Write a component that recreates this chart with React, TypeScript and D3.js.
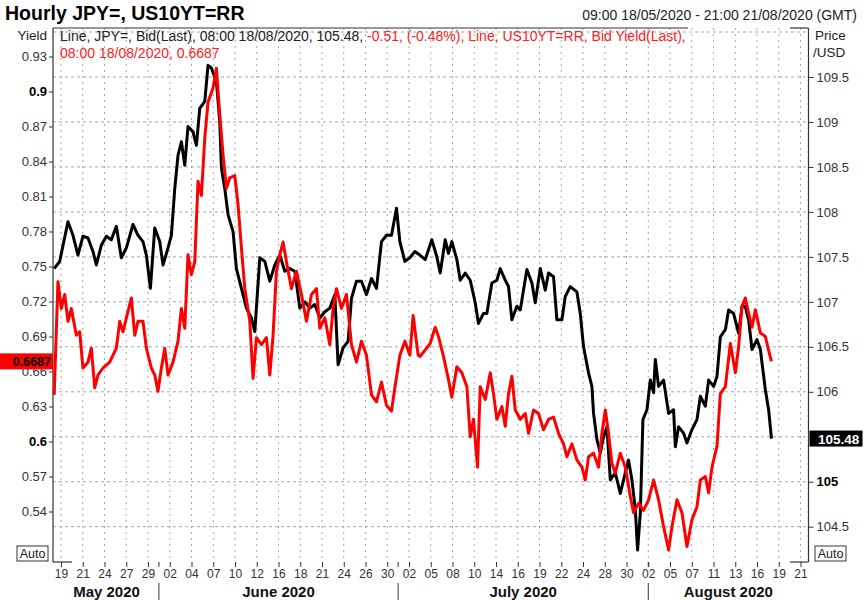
import * as d3 from "d3";
import { useEffect, useRef } from "react";

// trading-day position (weekdays since Mon 18/05/2020) and value
const jpyPoints: [number, number][] = [
  [0.375, 107.37], [0.88, 107.45], [1.64, 107.89], [2.1, 107.74], [2.56, 107.52], [3.02, 107.73],
  [3.48, 107.71], [3.94, 107.56], [4.25, 107.41], [4.71, 107.63], [5.17, 107.73], [5.63, 107.69],
  [6.09, 107.84], [6.55, 107.49], [7.01, 107.6], [7.62, 107.86], [8.08, 107.74], [8.54, 107.67],
  [8.85, 107.52], [9.22, 107.15], [9.62, 107.82], [10.08, 107.67], [10.38, 107.41], [10.84, 107.6],
  [11.15, 107.74], [11.46, 108.26], [11.76, 108.63], [12.07, 108.78], [12.38, 108.52], [12.68, 108.95],
  [13.14, 108.89], [13.45, 108.74], [13.76, 109.15], [14.22, 109.23], [14.52, 109.63], [14.83, 109.6],
  [15.29, 109.45], [15.6, 109.0], [15.75, 108.49], [16.06, 108.26], [16.36, 107.97], [16.82, 107.78],
  [17.13, 107.37], [17.59, 107.15], [18.05, 106.93], [18.51, 106.82], [18.82, 106.67], [19.28, 107.49],
  [19.74, 107.45], [20.2, 107.23], [20.66, 107.41], [21.12, 107.52], [21.58, 107.34], [22.04, 107.37],
  [22.5, 107.34], [22.96, 106.93], [23.42, 107.0], [23.88, 106.93], [24.34, 106.97], [24.8, 106.82],
  [25.26, 106.89], [25.72, 106.93], [26.18, 107.08], [26.48, 106.3], [26.94, 106.49], [27.4, 106.56],
  [27.71, 107.04], [28.17, 107.23], [28.63, 107.23], [29.09, 107.08], [29.55, 107.26], [30.01, 107.15],
  [30.47, 107.67], [30.93, 107.74], [31.39, 107.74], [31.85, 108.04], [32.16, 107.67], [32.62, 107.45],
  [33.08, 107.49], [33.54, 107.56], [34.0, 107.52], [34.49, 107.47], [35.1, 107.69], [35.56, 107.5],
  [35.87, 107.32], [36.33, 107.69], [36.63, 107.54], [36.94, 107.67], [37.4, 107.47], [37.71, 107.24],
  [38.17, 107.32], [38.63, 107.24], [39.09, 106.99], [39.39, 106.76], [39.85, 106.87], [40.16, 106.87],
  [40.62, 107.21], [41.08, 107.24], [41.39, 107.37], [41.85, 107.24], [42.15, 107.17], [42.46, 106.8],
  [42.92, 106.95], [43.23, 106.91], [43.84, 107.36], [44.3, 107.21], [44.61, 106.99], [45.07, 107.37],
  [45.53, 107.13], [45.83, 107.32], [46.29, 107.28], [46.6, 106.8], [47.06, 106.8], [47.37, 107.06],
  [47.83, 107.17], [48.44, 107.11], [48.75, 106.87], [49.05, 106.5], [49.51, 106.21], [49.82, 106.06],
  [49.97, 105.76], [50.28, 105.47], [50.59, 105.32], [50.89, 105.5], [51.2, 105.61], [51.51, 105.02],
  [51.97, 105.1], [52.43, 104.87], [52.89, 105.1], [53.19, 105.24], [53.5, 105.02], [53.81, 104.69],
  [54.02, 104.24], [54.27, 104.65], [54.51, 105.69], [54.88, 105.8], [55.19, 106.13], [55.49, 105.99],
  [55.65, 106.36], [55.95, 106.06], [56.41, 106.13], [56.87, 105.76], [57.33, 105.8], [57.49, 105.39],
  [57.79, 105.61], [58.25, 105.54], [58.56, 105.43], [59.02, 105.58], [59.48, 105.69], [59.79, 105.95],
  [60.25, 105.84], [60.55, 106.13], [61.01, 106.06], [61.32, 106.17], [61.63, 106.61], [62.09, 106.69],
  [62.39, 106.91], [62.85, 106.87], [63.31, 106.65], [63.62, 106.95], [63.92, 106.95], [64.23, 106.8],
  [64.54, 106.47], [65.0, 106.58], [65.31, 106.47], [65.77, 106.02], [66.07, 105.8], [66.33, 105.48],
];

const yieldPoints: [number, number][] = [
  [0.375, 0.64], [0.72, 0.737], [1.03, 0.714], [1.34, 0.726], [1.64, 0.703], [1.95, 0.714],
  [2.41, 0.691], [2.72, 0.694], [3.02, 0.663], [3.48, 0.668], [3.79, 0.68], [4.1, 0.646],
  [4.4, 0.657], [4.86, 0.663], [5.48, 0.668], [6.09, 0.68], [6.4, 0.703], [6.7, 0.694],
  [7.01, 0.706], [7.47, 0.723], [7.78, 0.691], [8.08, 0.703], [8.54, 0.703], [8.85, 0.68],
  [9.31, 0.663], [9.62, 0.657], [9.92, 0.643], [10.23, 0.663], [10.54, 0.68], [10.84, 0.657],
  [11.3, 0.668], [11.76, 0.686], [12.07, 0.714], [12.38, 0.697], [12.68, 0.76], [12.99, 0.743],
  [13.3, 0.754], [13.6, 0.823], [13.91, 0.811], [14.22, 0.86], [14.52, 0.891], [14.98, 0.903],
  [15.29, 0.92], [15.6, 0.88], [15.9, 0.846], [16.21, 0.817], [16.52, 0.826], [16.98, 0.828],
  [17.28, 0.803], [17.59, 0.766], [17.9, 0.731], [18.36, 0.703], [18.66, 0.654], [18.97, 0.689],
  [19.43, 0.683], [19.89, 0.689], [20.2, 0.657], [20.5, 0.691], [20.81, 0.746], [21.12, 0.76],
  [21.42, 0.771], [21.73, 0.754], [22.19, 0.731], [22.65, 0.746], [23.11, 0.726], [23.57, 0.703],
  [24.03, 0.726], [24.49, 0.731], [24.8, 0.697], [25.26, 0.706], [25.72, 0.683], [26.02, 0.714],
  [26.33, 0.731], [26.79, 0.714], [27.25, 0.726], [27.71, 0.683], [28.17, 0.668], [28.63, 0.686],
  [29.09, 0.674], [29.55, 0.64], [30.01, 0.634], [30.47, 0.651], [30.93, 0.631], [31.39, 0.626],
  [31.7, 0.646], [32.16, 0.674], [32.62, 0.686], [33.08, 0.674], [33.38, 0.708], [33.84, 0.674],
  [34.03, 0.673], [34.95, 0.684], [35.41, 0.698], [35.71, 0.69], [36.17, 0.673], [36.63, 0.653],
  [36.94, 0.638], [37.4, 0.664], [37.86, 0.659], [38.32, 0.647], [38.63, 0.604], [38.93, 0.619],
  [39.3, 0.578], [39.55, 0.647], [40.01, 0.636], [40.47, 0.659], [40.77, 0.641], [41.08, 0.619],
  [41.54, 0.63], [41.85, 0.613], [42.15, 0.641], [42.46, 0.656], [42.77, 0.627], [43.23, 0.619],
  [43.69, 0.624], [43.99, 0.607], [44.45, 0.627], [44.91, 0.624], [45.37, 0.61], [45.83, 0.619],
  [46.29, 0.621], [46.75, 0.607], [47.21, 0.598], [47.52, 0.587], [47.98, 0.598], [48.44, 0.584],
  [48.9, 0.578], [49.21, 0.567], [49.51, 0.587], [49.97, 0.59], [50.43, 0.578], [50.74, 0.607],
  [51.05, 0.627], [51.35, 0.607], [51.66, 0.581], [51.97, 0.573], [52.43, 0.59], [52.89, 0.578],
  [53.35, 0.553], [53.65, 0.539], [54.11, 0.547], [54.57, 0.541], [55.03, 0.55], [55.49, 0.567],
  [55.95, 0.55], [56.41, 0.527], [56.87, 0.507], [57.18, 0.527], [57.64, 0.55], [58.1, 0.539],
  [58.56, 0.51], [59.02, 0.533], [59.48, 0.544], [59.79, 0.567], [60.25, 0.57], [60.55, 0.556],
  [60.86, 0.578], [61.32, 0.596], [61.63, 0.641], [62.09, 0.647], [62.55, 0.684], [63.01, 0.659],
  [63.31, 0.681], [63.62, 0.716], [63.92, 0.723], [64.23, 0.71], [64.54, 0.698], [64.85, 0.713],
  [65.31, 0.693], [65.77, 0.69], [66.07, 0.678], [66.33, 0.6687],
];

const yieldTicks = [0.54, 0.57, 0.6, 0.63, 0.66, 0.69, 0.72, 0.75, 0.78, 0.81, 0.84, 0.87, 0.9, 0.93];
const priceTicks = [104.5, 105, 106, 106.5, 107, 107.5, 108, 108.5, 109, 109.5];
const priceGrid = [104.5, 105, 105.5, 106, 106.5, 107, 107.5, 108, 108.5, 109, 109.5, 110];
const dateTicks = [
  "2020-05-19", "2020-05-21", "2020-05-24", "2020-05-27", "2020-05-29",
  "2020-06-02", "2020-06-04", "2020-06-07", "2020-06-10", "2020-06-12", "2020-06-16",
  "2020-06-18", "2020-06-21", "2020-06-24", "2020-06-26", "2020-06-30",
  "2020-07-02", "2020-07-05", "2020-07-08", "2020-07-10", "2020-07-14", "2020-07-16",
  "2020-07-19", "2020-07-22", "2020-07-24", "2020-07-28", "2020-07-30",
  "2020-08-02", "2020-08-05", "2020-08-07", "2020-08-11", "2020-08-13", "2020-08-16",
  "2020-08-19", "2020-08-21",
];
const monthNames = ["May 2020", "June 2020", "July 2020", "August 2020"];
const monthStarts = ["2020-06-01", "2020-07-01", "2020-08-01"];
const rangeStart = 0.375; // 09:00 18/05/2020
const rangeEnd = 69.875; // 21:00 21/08/2020
const lastYield = 0.6687;
const lastPrice = 105.48;

// weekdays elapsed since Monday 18/05/2020 (weekends collapsed)
function tradingDay(iso: string) {
  const end = new Date(iso + "T00:00:00Z");
  let n = 0;
  for (let t = new Date(Date.UTC(2020, 4, 18)); t < end; t.setUTCDate(t.getUTCDate() + 1)) {
    const wd = t.getUTCDay();
    if (wd !== 0 && wd !== 6) n++;
  }
  return n;
}

const W = 864;
const H = 600;
const FONT = "'Liberation Sans', Arial, sans-serif";

export default function App() {
  const svgRef = useRef<SVGSVGElement>(null);

  useEffect(() => {
    const svg = d3.select(svgRef.current);
    svg.selectAll("*").remove();

    const left = 53;
    const right = 808.5;
    const top = 28;
    const bottom = 562;

    const x = d3.scaleLinear().domain([1, 69]).range([61, 800.5]);
    const yL = d3.scaleLinear().domain([0.54, 0.93]).range([511.5, 56.5]);
    const yR = d3.scaleLinear().domain([104.5, 109.5]).range([526.7, 77]);

    svg.append("rect").attr("width", W).attr("height", H).attr("fill", "#fff");

    const tickDays = dateTicks.map(tradingDay);

    // grid
    svg.append("g")
      .selectAll("line")
      .data(priceGrid)
      .join("line")
      .attr("x1", left)
      .attr("x2", right)
      .attr("y1", (d) => yR(d))
      .attr("y2", (d) => yR(d))
      .attr("stroke", "#a8a8a8")
      .attr("stroke-dasharray", "3,3");
    svg.append("g")
      .selectAll("line")
      .data(tickDays)
      .join("line")
      .attr("x1", (d) => x(d))
      .attr("x2", (d) => x(d))
      .attr("y1", top)
      .attr("y2", bottom)
      .attr("stroke", "#a8a8a8")
      .attr("stroke-dasharray", "2,4");

    // frame pieces
    const frame = svg.append("g").attr("stroke", "#333").attr("stroke-width", 1.2);
    frame.append("line").attr("x1", left).attr("x2", left).attr("y1", top).attr("y2", bottom);
    frame.append("line").attr("x1", right).attr("x2", right).attr("y1", top).attr("y2", bottom);
    frame.append("line").attr("x1", left).attr("x2", 688).attr("y1", top).attr("y2", top);
    frame.append("line").attr("x1", 790).attr("x2", right).attr("y1", top).attr("y2", top);
    frame.append("line").attr("x1", left).attr("x2", 72).attr("y1", bottom).attr("y2", bottom);
    frame.append("line").attr("x1", 790).attr("x2", right).attr("y1", bottom).attr("y2", bottom);

    // series
    const lineOf = (y: d3.ScaleLinear<number, number>) =>
      d3.line<[number, number]>()
        .x((d) => x(d[0]))
        .y((d) => y(d[1]));
    svg.append("path")
      .datum(jpyPoints)
      .attr("d", lineOf(yR))
      .attr("fill", "none")
      .attr("stroke", "#000")
      .attr("stroke-width", 3)
      .attr("stroke-linejoin", "round");
    svg.append("path")
      .datum(yieldPoints)
      .attr("d", lineOf(yL))
      .attr("fill", "none")
      .attr("stroke", "#ff0000")
      .attr("stroke-width", 3)
      .attr("stroke-linejoin", "round");

    // left axis
    const axL = svg.append("g")
      .attr("transform", `translate(${left},0)`)
      .call(d3.axisLeft(yL).tickValues(yieldTicks).tickSize(4).tickPadding(2).tickFormat((d) => String(+d)));
    axL.select(".domain").remove();
    axL.selectAll("line").attr("stroke", "#333");
    axL.selectAll("text")
      .attr("font-family", FONT)
      .attr("font-size", 13)
      .attr("fill", (d) => (d === 0.9 || d === 0.6 ? "#000" : "#333"))
      .attr("font-weight", (d) => (d === 0.9 || d === 0.6 ? "bold" : "normal"));

    // right axis
    const axR = svg.append("g")
      .attr("transform", `translate(${right},0)`)
      .call(d3.axisRight(yR).tickValues(priceTicks).tickSize(5).tickPadding(3).tickFormat((d) => String(+d)));
    axR.select(".domain").remove();
    axR.selectAll("line").attr("stroke", "#333");
    axR.selectAll("text")
      .attr("font-family", FONT)
      .attr("font-size", 13)
      .attr("fill", (d) => (d === 105 ? "#000" : "#333"))
      .attr("font-weight", (d) => (d === 105 ? "bold" : "normal"));

    // bottom axis
    const axB = svg.append("g")
      .attr("transform", `translate(0,${bottom})`)
      .call(
        d3.axisBottom(x)
          .tickValues(tickDays)
          .tickSize(5)
          .tickPadding(2)
          .tickFormat((_, i) => dateTicks[i].slice(8, 10))
      );
    axB.select(".domain").remove();
    axB.selectAll("line").attr("stroke", "#333");
    axB.selectAll("text").attr("font-family", FONT).attr("font-size", 12).attr("fill", "#333");

    // months
    const bounds = [rangeStart, ...monthStarts.map(tradingDay), rangeEnd];
    const months = svg.append("g");
    months.selectAll("line.tk")
      .data(monthStarts.map(tradingDay))
      .join("line")
      .attr("x1", (d) => x(d))
      .attr("x2", (d) => x(d))
      .attr("y1", bottom)
      .attr("y2", bottom + 5)
      .attr("stroke", "#333");
    months.selectAll("line.sep")
      .data(monthStarts.map(tradingDay))
      .join("line")
      .attr("x1", (d) => x(d))
      .attr("x2", (d) => x(d))
      .attr("y1", 583)
      .attr("y2", 600)
      .attr("stroke", "#333");
    months.selectAll("text")
      .data(monthNames)
      .join("text")
      .attr("x", (_, i) => (Math.max(left, x(bounds[i])) + Math.min(right, x(bounds[i + 1]))) / 2)
      .attr("y", 597)
      .attr("text-anchor", "middle")
      .attr("font-family", FONT)
      .attr("font-weight", "bold")
      .attr("font-size", 15)
      .attr("fill", "#111")
      .text((d) => d);

    // headers
    const txt = (tx: number, ty: number, s: string, size: number, opts: Record<string, string> = {}) => {
      const t = svg.append("text")
        .attr("x", tx)
        .attr("y", ty)
        .attr("font-family", FONT)
        .attr("font-size", size)
        .attr("fill", "#222")
        .text(s);
      Object.entries(opts).forEach(([k, v]) => t.attr(k, v));
      return t;
    };
    txt(5, 20, "Hourly JPY=, US10YT=RR", 19.5, { "font-weight": "bold", fill: "#000" });
    txt(857, 20, "09:00 18/05/2020 - 21:00 21/08/2020 (GMT)", 14, { "text-anchor": "end" });
    txt(47, 40, "Yield", 13.5, { "text-anchor": "end" });
    txt(815, 40, "Price", 13.5);
    txt(813, 57, "/USD", 13.5);

    // legend
    const leg = svg.append("text").attr("x", 60).attr("y", 41).attr("font-family", FONT).attr("font-size", 14);
    leg.append("tspan").attr("fill", "#222").text("Line, JPY=, Bid(Last), 08:00 18/08/2020, 105.48, ");
    leg.append("tspan").attr("fill", "#ff2020").text("-0.51, (-0.48%), Line, US10YT=RR, Bid Yield(Last),");
    txt(60, 58, "08:00 18/08/2020, 0.6687", 14, { fill: "#ff2020" });

    // last-value flags
    svg.append("rect").attr("x", 0).attr("y", yL(lastYield) - 8).attr("width", left).attr("height", 16).attr("fill", "#ff0000");
    txt(51, yL(lastYield) + 4.5, String(lastYield), 12.5, { "text-anchor": "end", "font-weight": "bold", fill: "#000" });
    svg.append("rect").attr("x", right + 1).attr("y", yR(lastPrice) - 8).attr("width", 53).attr("height", 16).attr("fill", "#000");
    txt(818, yR(lastPrice) + 5, String(lastPrice), 13.5, { "font-weight": "bold", fill: "#fff" });

    // Auto buttons
    [[17, 546], [815, 546]].forEach(([bx, by]) => {
      svg.append("rect").attr("x", bx).attr("y", by).attr("width", 31).attr("height", 15)
        .attr("fill", "#fff").attr("stroke", "#333");
      txt(bx + 15.5, by + 12, "Auto", 12.5, { "text-anchor": "middle" });
    });
  }, []);

  return (
    <svg
      ref={svgRef}
      width={W}
      height={H}
      style={{ position: "absolute", left: 0, top: 0, display: "block" }}
    />
  );
}
